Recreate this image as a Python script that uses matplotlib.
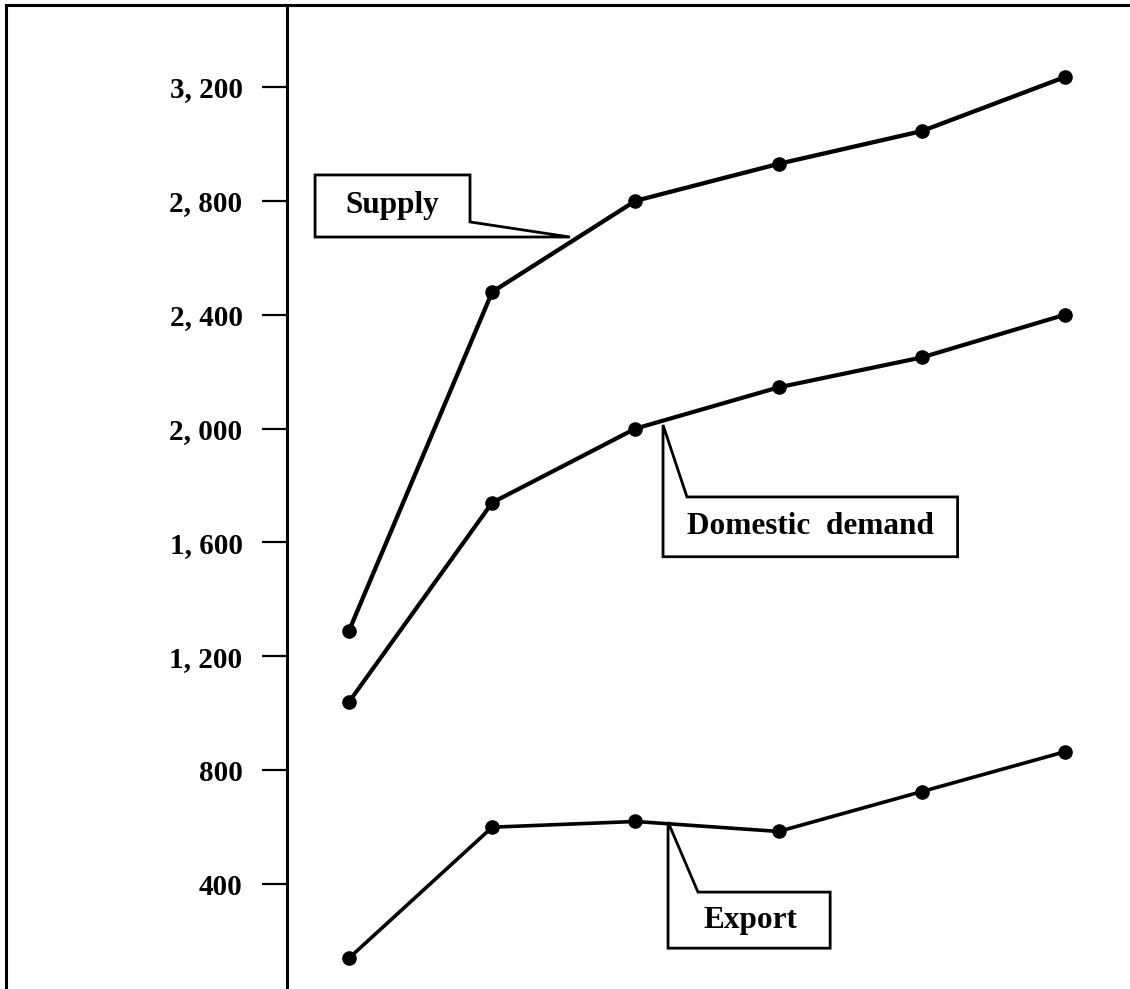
import matplotlib.pyplot as plt
from matplotlib.patches import Polygon
from matplotlib.lines import Line2D
from matplotlib.ticker import FuncFormatter

# values (six periods, equally spaced)
periods = [0, 1, 2, 3, 4, 5]
supply = [1290, 2480, 2800, 2930, 3045, 3235]
domestic_demand = [1040, 1740, 2000, 2145, 2250, 2400]
export = [140, 600, 620, 585, 725, 865]
y_ticks = [400, 800, 1200, 1600, 2000, 2400, 2800, 3200]

font = {'family': 'Liberation Serif', 'weight': 'bold'}

fig = plt.figure(figsize=(11.3, 9.89), dpi=100)
ax = fig.add_axes([287 / 1130, 0, 843 / 1130, 984 / 989])

for vals, lw in [(supply, 3.1), (domestic_demand, 3.0), (export, 2.6)]:
    ax.plot(periods, vals, color='black', lw=lw, marker='o', markersize=9.5,
            solid_joinstyle='round', zorder=3)

ax.set_xlim(-0.433, 5.454)
ax.set_ylim(31.6, 3488)
ax.set_xticks([])
ax.set_yticks(y_ticks)
ax.yaxis.set_major_formatter(FuncFormatter(lambda v, p: f"{int(v):,}".replace(",", ", ")))
ax.tick_params(axis='y', direction='out', length=18, width=1.6, pad=14, labelsize=21)
for lab in ax.get_yticklabels():
    lab.set_fontfamily('Liberation Serif')
    lab.set_fontweight('bold')

for s in ['top', 'right', 'bottom']:
    ax.spines[s].set_visible(False)
ax.spines['left'].set_linewidth(2.2)

# callout boxes with pointers
callouts = [
    ("Supply", [(-0.237, 2891), (0.845, 2891), (0.845, 2726), (1.543, 2673), (-0.237, 2673)],
     (0.30, 2782)),
    ("Domestic  demand", [(2.193, 2013), (2.360, 1760), (4.25, 1760), (4.25, 1550), (2.193, 1550)],
     (3.22, 1655)),
    ("Export", [(2.228, 618), (2.437, 372), (3.36, 372), (3.36, 175), (2.228, 175)],
     (2.80, 273)),
]
for text, pts, (tx, ty) in callouts:
    ax.add_patch(Polygon(pts, closed=True, facecolor='white', edgecolor='black',
                         lw=2.0, joinstyle='miter', zorder=1))
    ax.text(tx, ty, text, ha='center', va='center', fontsize=22.5, zorder=4, **font)

# outer frame of the scanned page
fig.add_artist(Line2D([6 / 1130, 1.0], [1 - 5 / 989, 1 - 5 / 989], color='black', lw=2.2))
fig.add_artist(Line2D([6 / 1130, 6 / 1130], [0, 1 - 5 / 989], color='black', lw=2.2))

fig.savefig('out.png', dpi=100)
